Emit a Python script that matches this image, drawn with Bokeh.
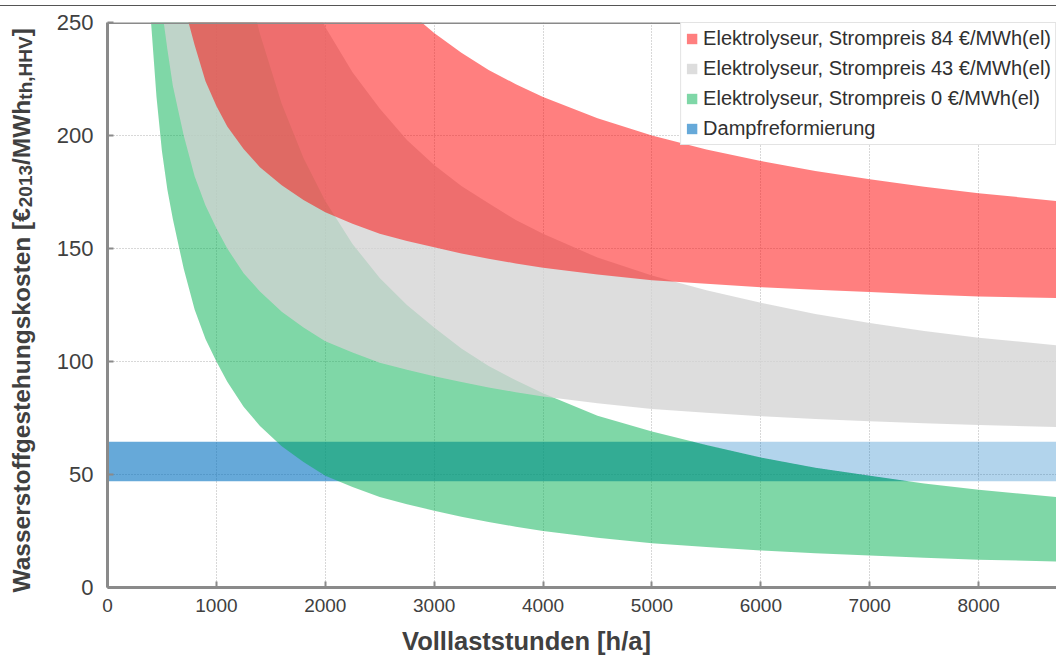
import numpy as np
from bokeh.plotting import figure
from bokeh.models import Range1d, Span, Label, Legend, LegendItem, FixedTicker, Div
from bokeh.layouts import column, row
from bokeh.embed import file_html
from bokeh.resources import INLINE

# ---------------- data ----------------
hours = [350, 400, 450, 500, 550, 600, 650, 700, 800, 900, 1000, 1100, 1250, 1400,
         1600, 1800, 2000, 2250, 2500, 2750, 3000, 3250, 3500, 3750, 4000, 4500, 5000, 5500,
         6000, 6500, 7000, 7500, 8000, 8760]

# Elektrolyseur, Strompreis 0 EUR/MWh(el)
green_lo = [290, 250, 217, 193, 176, 163, 152, 141, 123, 110, 100, 91, 80, 71.5,
            62.5, 55.5, 49.5, 44.5, 40, 36.8, 34, 31.3, 29, 26.9, 25, 22, 19.6, 17.9,
            16.4, 15.2, 14.2, 13.2, 12.3, 11.5]
green_hi = [980, 855, 760, 684, 622, 570, 526, 489, 428, 380, 342, 311, 274, 245,
            214, 190, 171, 152, 137, 125, 115, 105.8, 98, 91.7, 86, 76, 69, 63,
            57.5, 53, 49.5, 46, 43.3, 39.8]

# Elektrolyseur, Strompreis 43 EUR/MWh(el)
grey_lo = [350, 310, 277, 256, 238, 222, 211, 200, 182, 169, 159, 150, 139, 131,
           122, 115, 109, 104, 99.5, 96.3, 93.5, 90.9, 88.5, 86.4, 84.5, 81.5, 79, 77.3,
           75.8, 74.6, 73.6, 72.7, 71.9, 70.9]
grey_hi = [1116, 985, 882, 801, 734, 678, 631, 590, 525, 473, 432, 399, 359, 327,
           294, 269, 248, 228, 212, 198, 187, 177.7, 170, 162.6, 156.5, 146, 138, 131.5,
           126, 121, 117, 113.5, 110.5, 107]

# Elektrolyseur, Strompreis 84 EUR/MWh(el)
red_lo = [406, 366, 334, 310, 293, 280, 269, 258, 240, 224, 213, 204, 194, 186,
          178, 171.5, 166, 161, 156.5, 153.3, 150.5, 147.8, 145.5, 143.4, 141.5, 138.5, 136, 134.4,
          132.9, 131.7, 130.7, 129.7, 128.8, 128]
red_hi = [1103, 982, 888, 812, 750, 699, 655, 618, 557, 510, 472, 441, 404, 375,
          344.5, 321, 302, 283, 268, 255.6, 245.3, 236.6, 229, 222.7, 217, 207.6, 200, 193.8,
          188.7, 184.3, 180.6, 177.3, 174.5, 170.8]

# Dampfreformierung
smr_lo = 47
smr_hi = 64.5
smr_hours = [0, 8760]

x_ticks = [0, 1000, 2000, 3000, 4000, 5000, 6000, 7000, 8000]
y_ticks = [0, 50, 100, 150, 200, 250]

legend_labels = ["Elektrolyseur, Strompreis 84 €/MWh(el)",
                 "Elektrolyseur, Strompreis 43 €/MWh(el)",
                 "Elektrolyseur, Strompreis 0 €/MWh(el)",
                 "Dampfreformierung"]
x_title = "Volllaststunden [h/a]"
y_title_parts = [("Wasserstoffgestehungskosten [€", False), ("2013", True),
                 ("/MWh", False), ("th,HHV", True), ("]", False)]

# ---------------- style ----------------
FONT = "Liberation Sans"
TXT = "#404040"
W, H = 1056, 658
TOP_H = 6           # strip holding the thin rule at the very top
YT_W = 40           # strip holding the vertical axis title
XT_H = 35           # strip holding the horizontal axis title
MAIN_W = W - YT_W
MAIN_H = H - TOP_H - XT_H
FRAME_LEFT = 107    # page x of the plot frame's left edge


def blank(width, height, xr, yr):
    f = figure(width=width, height=height, x_range=Range1d(*xr), y_range=Range1d(*yr),
               output_backend="svg", toolbar_location=None,
               x_axis_location=None, y_axis_location=None,
               min_border=0, min_border_left=0, min_border_right=0,
               min_border_top=0, min_border_bottom=0)
    f.outline_line_color = None
    f.xgrid.visible = False
    f.ygrid.visible = False
    return f


# top rule
top = Div(text="", width=W, height=TOP_H, margin=0,
          styles={"border-bottom": "1px solid #555555", "box-sizing": "border-box"})

# ---------------- main chart ----------------
p = figure(width=MAIN_W, height=MAIN_H, x_range=Range1d(0, 8715), y_range=Range1d(0, 250),
           output_backend="svg", toolbar_location=None,
           min_border_left=FRAME_LEFT - YT_W, min_border_right=0,
           min_border_top=22 - TOP_H, min_border_bottom=MAIN_H - (587 - TOP_H))
p.outline_line_color = None

# steam reforming band: darker where it lies under the green band
xs = np.linspace(smr_hours[0], smr_hours[1], 1500)
gh = np.interp(xs, hours, green_hi, left=1e4)
mid = np.clip(gh, smr_lo, smr_hi)
r_blue = p.varea(x=xs, y1=np.full_like(xs, smr_lo), y2=mid, fill_color="#0070C0", fill_alpha=0.6)
p.varea(x=xs, y1=mid, y2=np.full_like(xs, smr_hi), fill_color="#0070C0", fill_alpha=0.3)

r_green = p.varea(x=hours, y1=green_lo, y2=green_hi, fill_color="#00B050", fill_alpha=0.5)
r_grey = p.varea(x=hours, y1=grey_lo, y2=grey_hi, fill_color="#D3D3D3", fill_alpha=0.77)
r_red = p.varea(x=hours, y1=red_lo, y2=red_hi, fill_color="#FF0000", fill_alpha=0.5)

for g in (p.xgrid, p.ygrid):
    g.grid_line_color = "#b0b0b0"
    g.grid_line_dash = "1 2"
    g.grid_line_width = 1

for ax in (p.xaxis, p.yaxis):
    ax.axis_line_color = "#8a8a8a"
    ax.axis_line_width = 3
    ax.major_tick_line_color = "#8a8a8a"
    ax.major_tick_line_width = 2
    ax.major_tick_in = 6
    ax.major_tick_out = 0
    ax.minor_tick_line_color = None
    ax.major_label_text_font = FONT
    ax.major_label_text_color = TXT
p.xaxis.ticker = FixedTicker(ticks=x_ticks)
p.yaxis.ticker = FixedTicker(ticks=y_ticks)
p.xaxis.major_label_text_font_size = "19px"
p.yaxis.major_label_text_font_size = "22px"
p.xaxis.major_label_standoff = 11
p.yaxis.major_label_standoff = 14

p.add_layout(Span(location=250, dimension="width", line_color="#8a8a8a", line_width=3))

legend = Legend(items=[LegendItem(label=legend_labels[0], renderers=[r_red]),
                       LegendItem(label=legend_labels[1], renderers=[r_grey]),
                       LegendItem(label=legend_labels[2], renderers=[r_green]),
                       LegendItem(label=legend_labels[3], renderers=[r_blue])],
                location="top_right", margin=0, padding=4, spacing=7,
                glyph_width=13, glyph_height=13, label_standoff=5,
                label_text_font=FONT, label_text_font_size="20px", label_text_color="#303030",
                border_line_color="#c8c8c8", border_line_width=1,
                background_fill_color="white", background_fill_alpha=1)
p.add_layout(legend)

# ---------------- axis titles ----------------
# the title strip's frame is aligned with the main frame (left edge at FRAME_LEFT)
xt = blank(MAIN_W, XT_H, (0, MAIN_W), (0, XT_H))
xt.add_layout(Label(x=526 - FRAME_LEFT, y=18, x_units="screen", y_units="screen", text=x_title,
                    text_align="center", text_baseline="alphabetic", text_font=FONT,
                    text_font_size="25.5px", text_font_style="bold", text_color=TXT))

yt = blank(YT_W, H - TOP_H, (0, YT_W), (0, H - TOP_H))
bw = {" ": 278, ",": 278, "/": 278, "[": 333, "]": 333, "€": 556, "M": 833, "W": 944,
      "H": 722, "V": 667, "a": 556, "e": 556, "f": 333, "g": 611, "h": 611, "k": 556,
      "n": 611, "o": 611, "r": 389, "s": 556, "t": 333, "u": 611}
BIG, SMALL = 24.5, 19
ypos = H - 592
for txt, sub in y_title_parts:
    size = SMALL if sub else BIG
    yt.add_layout(Label(x=21 + (4 if sub else 0), y=ypos, x_units="screen", y_units="screen",
                        text=txt, angle=np.pi / 2, text_align="left", text_baseline="alphabetic",
                        text_font=FONT, text_font_size=f"{size}px", text_font_style="bold",
                        text_color=TXT))
    ypos += sum(bw.get(c, 556) for c in txt) * size / 1000

layout = column(top, row(yt, column(p, xt, spacing=0), spacing=0), spacing=0)

open("out.html", "w").write(file_html(layout, INLINE))
